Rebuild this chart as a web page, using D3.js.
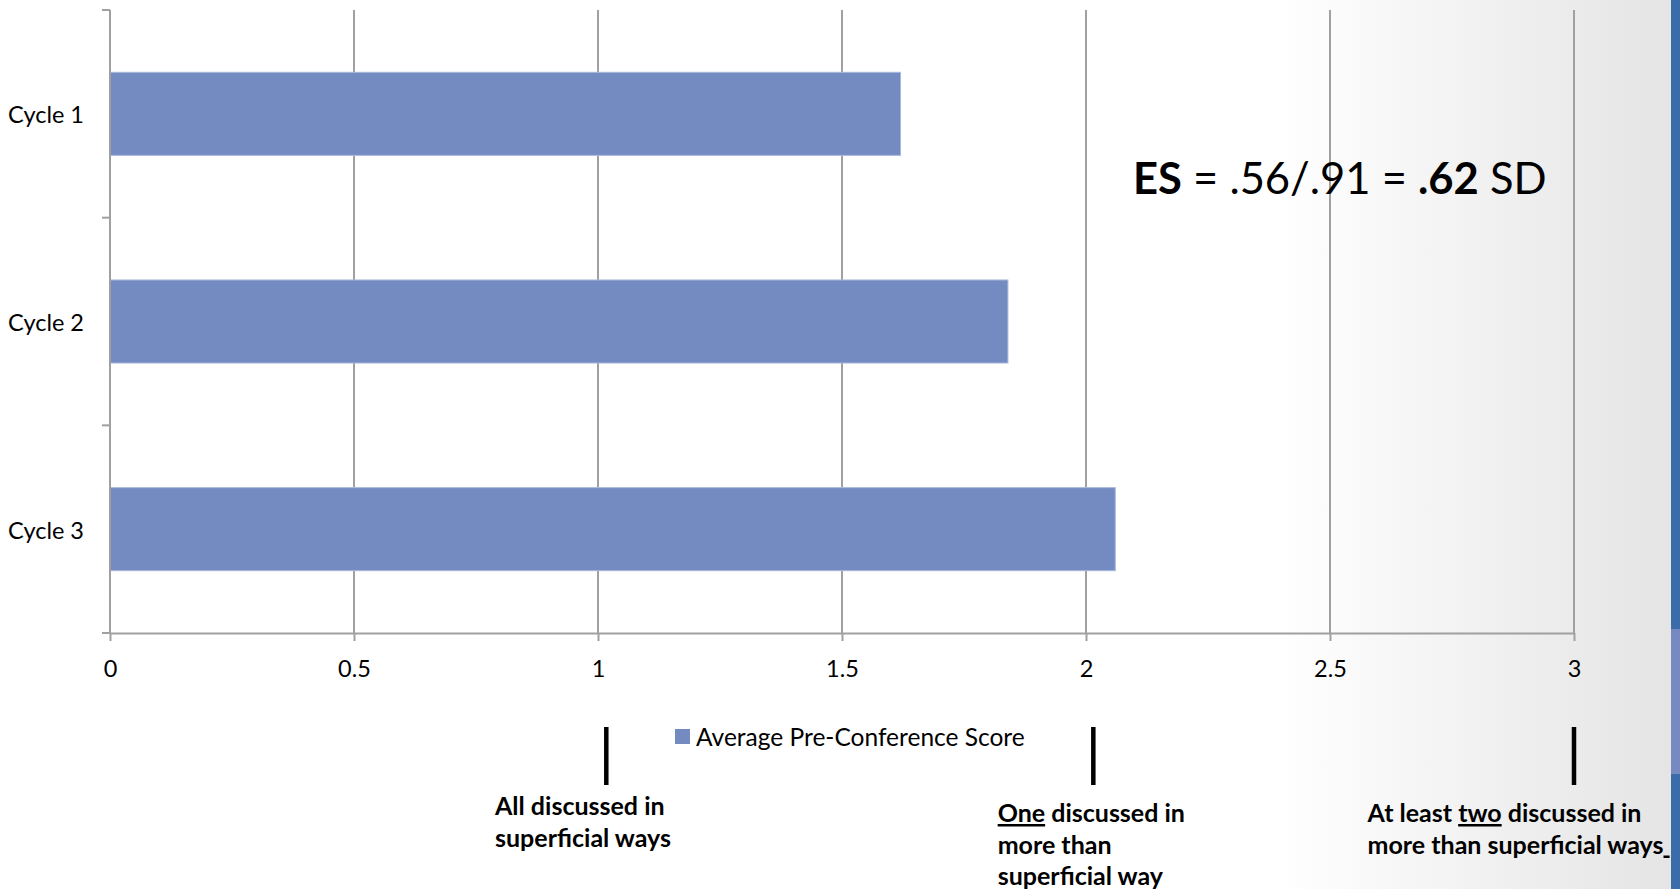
<!DOCTYPE html>
<html>
<head>
<meta charset="utf-8">
<script src="https://cdn.jsdelivr.net/npm/d3@7"></script>
<style>
  html, body { margin: 0; padding: 0; background: #fff; }
  svg { display: block; }
  text { font-family: Lato, "Open Sans", sans-serif; fill: #000; }
</style>
</head>
<body>
<svg id="chart" width="1680" height="889"></svg>
<script>
// Average pre-conference score per cycle
const categories = ["Cycle 1", "Cycle 2", "Cycle 3"];
const scores = [1.62, 1.84, 2.06];
const xTickValues = [0, 0.5, 1, 1.5, 2, 2.5, 3];
const seriesName = "Average Pre-Conference Score";

// Rubric anchors along the score axis and their descriptions
const rubricMarks = [1.017, 2.015, 3.0];
const rubricLabelStart = [0.789, 1.819, 2.577];
const rubricLabels = [
  [[{t: "All discussed in"}], [{t: "superficial ways"}]],
  [[{t: "One", u: true}, {t: " discussed in"}], [{t: "more than"}], [{t: "superficial way"}]],
  [[{t: "At least "}, {t: "two", u: true}, {t: " discussed in"}],
   [{t: "more than superficial ways"}, {t: "\u00a0", u: true}]]
];
const rubricLabelTop = [815, 822, 822];

const svg = d3.select("#chart");
const W = 1680, H = 889;

// Slide background: white fading to light grey on the right
const defs = svg.append("defs");
const grad = defs.append("linearGradient").attr("id", "bg")
  .attr("x1", "0%").attr("y1", "0%").attr("x2", "100%").attr("y2", "0%");
grad.append("stop").attr("offset", "76%").attr("stop-color", "#ffffff");
grad.append("stop").attr("offset", "99%").attr("stop-color", "#e5e5e5");
svg.append("rect").attr("width", W).attr("height", H).attr("fill", "url(#bg)");

// Accent strip at the right edge
svg.append("rect").attr("x", 1671).attr("y", 0).attr("width", 9).attr("height", H).attr("fill", "#3b6ba8");
svg.append("rect").attr("x", 1671).attr("y", 629).attr("width", 9).attr("height", 145).attr("fill", "#7689c1");

const plot = {left: 110, right: 1574, top: 10, bottom: 633};

const x = d3.scaleLinear().domain([0, 3]).range([plot.left, plot.right]);
const y = d3.scaleBand().domain(categories).range([plot.top, plot.bottom]).padding(0);

const gridColor = "#a0a0a0";

// Vertical gridlines
svg.append("g").selectAll("line")
  .data(xTickValues.filter(d => d > 0))
  .join("line")
  .attr("x1", d => x(d)).attr("x2", d => x(d))
  .attr("y1", plot.top).attr("y2", plot.bottom)
  .attr("stroke", gridColor).attr("stroke-width", 2);

// Bars
const barFrac = 0.4;
svg.append("g").selectAll("rect")
  .data(categories.map((c, i) => ({c, v: scores[i]})))
  .join("rect")
  .attr("x", x(0))
  .attr("y", d => y(d.c) + y.bandwidth() * (1 - barFrac) / 2)
  .attr("width", d => x(d.v) - x(0))
  .attr("height", y.bandwidth() * barFrac)
  .attr("fill", "#748bc2")
  .attr("stroke", "#a9b8dc").attr("stroke-width", 1);

// X axis
const xAxis = svg.append("g")
  .attr("transform", `translate(0,${plot.bottom})`)
  .call(d3.axisBottom(x).tickValues(xTickValues).tickFormat(d3.format("")).tickSize(8).tickSizeOuter(0).tickPadding(19));
xAxis.select(".domain").attr("stroke", gridColor).attr("stroke-width", 2);
xAxis.selectAll(".tick line").attr("stroke", gridColor).attr("stroke-width", 2);
xAxis.selectAll(".tick text").attr("font-size", 23.5).attr("font-family", "Lato").attr("fill", "#000");

// Y axis with ticks at category boundaries
const yAxisG = svg.append("g").attr("transform", `translate(${plot.left},0)`);
yAxisG.append("line")
  .attr("x1", 0).attr("x2", 0).attr("y1", plot.top).attr("y2", plot.bottom + 1)
  .attr("stroke", gridColor).attr("stroke-width", 2);
const boundaries = categories.map(c => y(c)).concat([y(categories[categories.length - 1]) + y.step()]);
yAxisG.selectAll("line.tk")
  .data(boundaries)
  .join("line").attr("class", "tk")
  .attr("x1", -8).attr("x2", 0)
  .attr("y1", d => d).attr("y2", d => d)
  .attr("stroke", gridColor).attr("stroke-width", 2);
yAxisG.selectAll("text")
  .data(categories)
  .join("text")
  .attr("x", -26)
  .attr("y", d => y(d) + y.bandwidth() / 2 + 9.5)
  .attr("text-anchor", "end")
  .attr("font-size", 23.5)
  .text(d => d);

// Legend
const legend = svg.append("g").attr("transform", "translate(675,729)");
legend.append("rect").attr("width", 15).attr("height", 15).attr("fill", "#748bc2");
legend.append("text").attr("x", 21).attr("y", 16.5).attr("font-size", 24.5).text(seriesName);

// Effect size annotation
const es = svg.append("text").attr("x", 1133).attr("y", 194).attr("font-size", 43.5);
es.append("tspan").attr("font-weight", "bold").text("ES");
es.append("tspan").text(" = .56/.91 = ");
es.append("tspan").attr("font-weight", "bold").text(".62");
es.append("tspan").text(" SD");

// Rubric markers below the axis
svg.append("g").selectAll("line")
  .data(rubricMarks)
  .join("line")
  .attr("x1", d => x(d)).attr("x2", d => x(d))
  .attr("y1", 727).attr("y2", 785)
  .attr("stroke", "#000").attr("stroke-width", 4.5);

// Rubric descriptions
rubricLabels.forEach((lines, i) => {
  const t = svg.append("text")
    .attr("font-size", 25).attr("font-weight", "bold")
    .attr("x", x(rubricLabelStart[i])).attr("y", rubricLabelTop[i]);
  lines.forEach((segs, j) => {
    segs.forEach((s, k) => {
      const ts = t.append("tspan").text(s.t);
      if (k === 0) ts.attr("x", x(rubricLabelStart[i])).attr("dy", j === 0 ? 0 : 31.5);
      if (s.u) ts.attr("text-decoration", "underline");
    });
  });
});
</script>
</body>
</html>
